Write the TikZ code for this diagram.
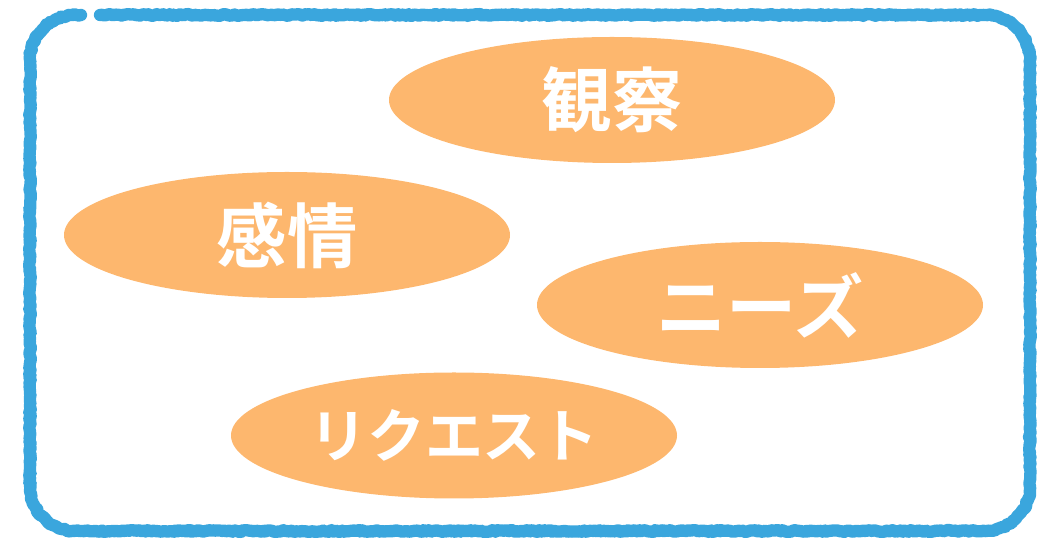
\documentclass[tikz,border=0pt]{standalone}
\usepackage{fontspec}
\usepackage{xcolor}
\usetikzlibrary{shapes.geometric,decorations.pathmorphing}
\newfontfamily\jpfont{Noto Sans CJK JP}[BoldFont={Noto Sans CJK JP Bold}]
\definecolor{crayonblue}{HTML}{3AA6DD}
\definecolor{bubbleorange}{HTML}{FDB76E}

\tikzset{
    bubble/.style={ellipse, fill=bubbleorange, text=white, inner sep=0pt,
        minimum width=8.92cm, minimum height=2.52cm,
        font=\jpfont\bfseries\fontsize{40}{40}\selectfont},
    crayon/.style={draw=crayonblue, line join=round, line cap=round, decorate,
        decoration={random steps, segment length=1.2pt, amplitude=#1}},
}
% rounded frame drawn with arcs, small gap at the top left
\newcommand{\framepath}{(2.0,-0.3) -- (19.7,-0.3) arc[start angle=90, end angle=0, radius=0.9]
    -- (20.6,-9.72) arc[start angle=0, end angle=-90, radius=0.9]
    -- (1.5,-10.62) arc[start angle=270, end angle=180, radius=0.9]
    -- (0.6,-1.2) arc[start angle=180, end angle=90, radius=0.9] -- (1.62,-0.3)}

\begin{document}
\begin{tikzpicture}
        \pgfmathsetseed{7}
        \useasboundingbox (0,0) rectangle (20.74,-10.78);

        % Crayon frame
        \draw[crayon=0.5pt, line width=7pt] \framepath;
        \draw[crayon=1pt, line width=3pt, opacity=0.8] \framepath;

        % Observation
        \node[bubble] (Observation) at (12.24,-2.0) {観察};

        % Feelings
        \node[bubble] (Feelings) at (5.74,-4.7) {感情};

        % Needs
        \node[bubble] (Needs) at (15.2,-6.1) {ニーズ};

        % Requests
        \node[bubble, font=\jpfont\bfseries\fontsize{33}{33}\selectfont] (Requests) at (9.08,-8.71) {リクエスト};
\end{tikzpicture}
\end{document}
